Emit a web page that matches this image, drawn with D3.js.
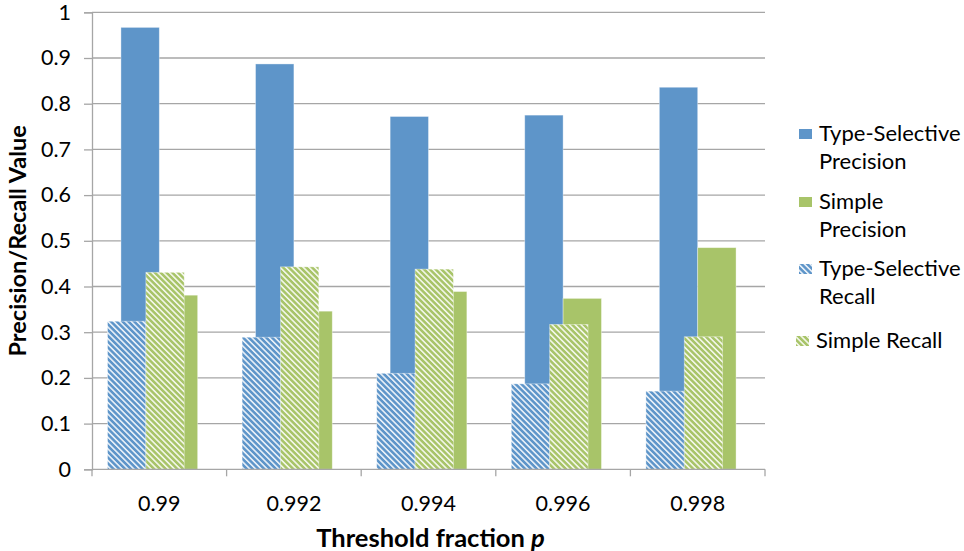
<!DOCTYPE html>
<html>
<head>
<meta charset="utf-8">
<script src="https://cdn.jsdelivr.net/npm/d3@7"></script>
<style>
  html, body { margin: 0; padding: 0; background: #fff; }
  svg { display: block; }
  text { font-family: Lato, "Open Sans", sans-serif; fill: #000; }
</style>
</head>
<body>
<svg id="chart" width="964" height="551"></svg>
<script>
// Threshold fractions along the x axis
const categories = ["0.99", "0.992", "0.994", "0.996", "0.998"];

// Series values
const tsPrecision     = [0.967, 0.887, 0.772, 0.775, 0.836];
const simplePrecision = [0.381, 0.346, 0.389, 0.374, 0.485];
const tsRecall        = [0.324, 0.289, 0.210, 0.187, 0.171];
const simpleRecall    = [0.431, 0.443, 0.438, 0.317, 0.290];

// Value-axis ticks
const yTicks = [0, 0.1, 0.2, 0.3, 0.4, 0.5, 0.6, 0.7, 0.8, 0.9, 1];
const yTickLabels = ["0", "0.1", "0.2", "0.3", "0.4", "0.5", "0.6", "0.7", "0.8", "0.9", "1"];

const BLUE = "#5E95C9";
const GREEN = "#A8C469";
const GRID = "#A6A6A6";

const svg = d3.select("#chart");
const plot = { left: 92, right: 765, top: 12.3, bottom: 469.3 };

const x = d3.scaleBand().domain(categories).range([plot.left, plot.right]);
const y = d3.scaleLinear().domain([0, 1]).range([plot.bottom, plot.top]);

const barW = x.bandwidth() * 0.285;
const recallShift = barW * 0.35;

// Diagonal stripe fills for the recall series
const defs = svg.append("defs");
function stripes(id, color) {
  const p = defs.append("pattern")
    .attr("id", id)
    .attr("patternUnits", "userSpaceOnUse")
    .attr("width", 4.1).attr("height", 4.1)
    .attr("patternTransform", "rotate(-45)");
  p.append("rect").attr("width", 4.1).attr("height", 4.1).attr("fill", color);
  p.append("rect").attr("x", 0).attr("width", 1.6).attr("height", 4.1)
    .attr("fill", "#fff").attr("fill-opacity", 0.85);
}
stripes("hatchBlue", BLUE);
stripes("hatchGreen", GREEN);

// Horizontal gridlines
svg.append("g").selectAll("line").data(yTicks.slice(1)).join("line")
  .attr("x1", plot.left).attr("x2", plot.right)
  .attr("y1", d => y(d)).attr("y2", d => y(d))
  .attr("stroke", GRID).attr("stroke-width", 1.3);

// Value axis
const yAxis = d3.axisLeft(y).tickValues(yTicks)
  .tickFormat((d, i) => yTickLabels[i]).tickSize(8).tickPadding(13);
const gy = svg.append("g").attr("transform", `translate(${plot.left},0)`).call(yAxis);
gy.select(".domain").attr("stroke", GRID).attr("stroke-width", 1.3);
gy.selectAll(".tick line").attr("stroke", GRID).attr("stroke-width", 1.3);
gy.selectAll(".tick text").style("font-size", "21.5px").style("font-family", "Lato, sans-serif").attr("fill", "#000");

// Bars
function bars(values, xOffset, fill) {
  svg.append("g").selectAll("rect").data(values).join("rect")
    .attr("x", (d, i) => x(categories[i]) + x.bandwidth() / 2 + xOffset)
    .attr("y", d => y(d))
    .attr("width", barW)
    .attr("height", d => y(0) - y(d))
    .attr("fill", fill)
    .attr("stroke", "#fff").attr("stroke-opacity", 0.45).attr("stroke-width", 0.8);
}
bars(tsPrecision, -barW, BLUE);
bars(simplePrecision, 0, GREEN);
bars(tsRecall, -barW - recallShift, "url(#hatchBlue)");
bars(simpleRecall, -recallShift, "url(#hatchGreen)");

// Category axis
const gx = svg.append("g").attr("transform", `translate(0,${plot.bottom})`);
gx.append("line").attr("x1", plot.left).attr("x2", plot.right)
  .attr("stroke", GRID).attr("stroke-width", 1.3);
const boundaries = categories.map(c => x(c)).concat([plot.right]);
gx.selectAll(".tk").data(boundaries).join("line").attr("class", "tk")
  .attr("x1", d => d).attr("x2", d => d).attr("y1", 0).attr("y2", 7)
  .attr("stroke", GRID).attr("stroke-width", 1.3);
gx.selectAll(".lbl").data(categories).join("text").attr("class", "lbl")
  .attr("x", d => x(d) + x.bandwidth() / 2).attr("y", 42)
  .attr("text-anchor", "middle").style("font-size", "21.5px")
  .text(d => d);

// Axis titles
svg.append("text")
  .attr("transform", `translate(26,${(plot.top + plot.bottom) / 2 + 0}) rotate(-90)`)
  .attr("text-anchor", "middle").style("font-size", "23.5px").style("font-weight", "bold")
  .text("Precision/Recall Value");

const xt = svg.append("text")
  .attr("x", (plot.left + plot.right) / 2 + 2).attr("y", 547)
  .attr("text-anchor", "middle").style("font-size", "25.5px").style("font-weight", "bold");
xt.append("tspan").text("Threshold fraction ");
xt.append("tspan").style("font-style", "italic").text("p");

// Legend
const legendRows = [
  { lines: ["Type-Selective", "Precision"], fill: BLUE, y: 133 },
  { lines: ["Simple", "Precision"], fill: GREEN, y: 201 },
  { lines: ["Type-Selective", "Recall"], fill: "url(#hatchBlue)", y: 268 },
  { lines: ["Simple Recall"], fill: "url(#hatchGreen)", y: 340 }
];
const lg = svg.append("g");
legendRows.forEach((r, i) => {
  const tx = i === 3 ? 816 : 819;
  const g = lg.append("g");
  g.append("rect").attr("x", tx - 20).attr("y", r.y - 4)
    .attr("width", 13).attr("height", 10).attr("fill", r.fill);
  const t = g.append("text").attr("x", tx).attr("y", r.y + 8)
    .style("font-size", "22px");
  r.lines.forEach((l, k) => {
    t.append("tspan").attr("x", tx).attr("dy", k === 0 ? 0 : 28).text(l);
  });
});
</script>
</body>
</html>
